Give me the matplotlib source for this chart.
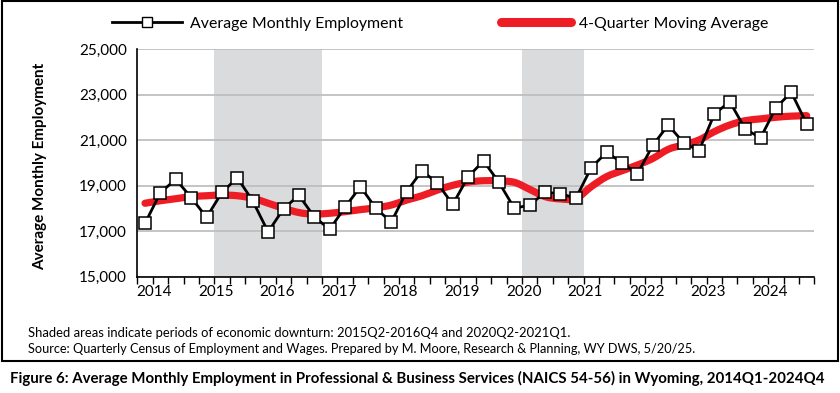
import numpy as np
import matplotlib.pyplot as plt
from matplotlib.path import Path
from matplotlib.patches import PathPatch, Rectangle
from matplotlib.lines import Line2D

plt.rcParams['font.family'] = ['Lato', 'DejaVu Sans']

# quarterly data, 2014Q1 .. 2024Q4
quarters = [f"{y}Q{q}" for y in range(2014, 2025) for q in range(1, 5)]
employment = [17350, 18700, 19280, 18480, 17610, 18710, 19350, 18330,
              16970, 17990, 18580, 17630, 17080, 18060, 18960, 18010,
              17400, 18740, 19660, 19110, 18180, 19400, 20090, 19150,
              18010, 18150, 18710, 18650, 18450, 19800, 20470, 20010,
              19520, 20780, 21670, 20890, 20540, 22150, 22700, 21500,
              21100, 22430, 23110, 21720]
moving_avg = [18230, 18340, 18430, 18520, 18560, 18590, 18560, 18450,
              18230, 18010, 17820, 17750, 17790, 17860, 17950, 18030,
              18150, 18370, 18560, 18810, 19020, 19160, 19220, 19210,
              19150, 18840, 18520, 18420, 18440, 18960, 19400, 19660,
              19910, 20200, 20600, 20800, 21010, 21380, 21670, 21860,
              21940, 22010, 22060, 22080]
years = list(range(2014, 2025))
downturns = [("2015Q2", "2016Q4"), ("2020Q2", "2021Q1")]

RED = '#EE1C25'
GRID = '#BFBFBF'
SHADE = '#DADBDD'


def smooth_path(xs, ys):
    # cubic bezier through every point (Excel style smoothed line)
    xs = np.asarray(xs, float)
    ys = np.asarray(ys, float)
    n = len(xs)
    verts = [(xs[0], ys[0])]
    codes = [Path.MOVETO]
    for i in range(n - 1):
        i0 = max(i - 1, 0)
        i3 = min(i + 2, n - 1)
        c1 = (xs[i] + (xs[i + 1] - xs[i0]) / 6, ys[i] + (ys[i + 1] - ys[i0]) / 6)
        c2 = (xs[i + 1] - (xs[i3] - xs[i]) / 6, ys[i + 1] - (ys[i3] - ys[i]) / 6)
        verts += [c1, c2, (xs[i + 1], ys[i + 1])]
        codes += [Path.CURVE4] * 3
    return Path(verts, codes)


fig = plt.figure(figsize=(8.4, 3.93), dpi=100)
ax = fig.add_axes([0.1635, 0.2959, 0.8060, 0.5787])

x = np.arange(len(quarters))

for start, end in downturns:
    ax.axvspan(quarters.index(start) - 0.5, quarters.index(end) + 0.5,
               color=SHADE, lw=0, zorder=0)

ax.add_patch(PathPatch(smooth_path(x, moving_avg), fill=False, edgecolor=RED,
                       lw=5.2, capstyle='round', joinstyle='round', zorder=3))
ax.plot(x, employment, color='black', lw=2, marker='s', ms=9.3,
        mfc='white', mec='black', mew=1.1, zorder=4)

ax.set_xlim(-0.5, len(quarters) - 0.5)
ax.set_ylim(15000, 25000)
ax.set_yticks(range(15000, 25001, 2000))
ax.set_yticklabels([f"{v:,}" for v in range(15000, 25001, 2000)])
ax.yaxis.grid(True, color=GRID, lw=1.3)
ax.set_axisbelow(True)
ax.tick_params(axis='y', length=0, pad=7.5, labelsize=11)

ax.set_xticks([4 * (y - 2014) + 0.6 for y in years])
ax.set_xticklabels([str(y) for y in years])
ax.set_xticks(np.arange(-0.5, len(quarters)), minor=True)
ax.tick_params(axis='x', which='major', length=0, pad=6, labelsize=11)
ax.tick_params(axis='x', which='minor', length=5, width=1, direction='out')

for s in ['top', 'right']:
    ax.spines[s].set_visible(False)
for s in ['left', 'bottom']:
    ax.spines[s].set_color('black')
    ax.spines[s].set_linewidth(1.2)

fig.text(0.0476, 0.5776, 'Average Monthly Employment', rotation=90,
         ha='center', va='center', fontsize=11, fontweight='bold')

handles = [
    Line2D([], [], color='black', lw=2, marker='s', ms=7.5, mfc='white',
           mec='black', mew=1),
    Line2D([], [], color=RED, lw=6.5, solid_capstyle='round'),
]
fig.legend(handles, ['Average Monthly Employment', '4-Quarter Moving Average'],
           loc='center', bbox_to_anchor=(0.524, 0.939), ncol=2, frameon=False,
           fontsize=11.4, handlelength=4.4, handletextpad=0.5, columnspacing=6.2)

fig.text(0.0333, 0.1527,
         'Shaded areas indicate periods of economic downturn: 2015Q2-2016Q4 and 2020Q2-2021Q1.',
         ha='left', va='center', fontsize=9.4)
fig.text(0.0333, 0.112,
         'Source: Quarterly Census of Employment and Wages. Prepared by M. Moore, '
         'Research & Planning, WY DWS, 5/20/25.',
         ha='left', va='center', fontsize=9.2)
fig.text(0.012, 0.038,
         'Figure 6: Average Monthly Employment in Professional & Business Services '
         '(NAICS 54-56) in Wyoming, 2014Q1-2024Q4',
         ha='left', va='center', fontsize=10.85, fontweight='bold')

fig.add_artist(Rectangle((1.5 / 840, 1 - 361 / 393), 836 / 840, 360 / 393,
                         transform=fig.transFigure, fill=False,
                         edgecolor='black', lw=1.5))

fig.savefig('out.png', dpi=100)
